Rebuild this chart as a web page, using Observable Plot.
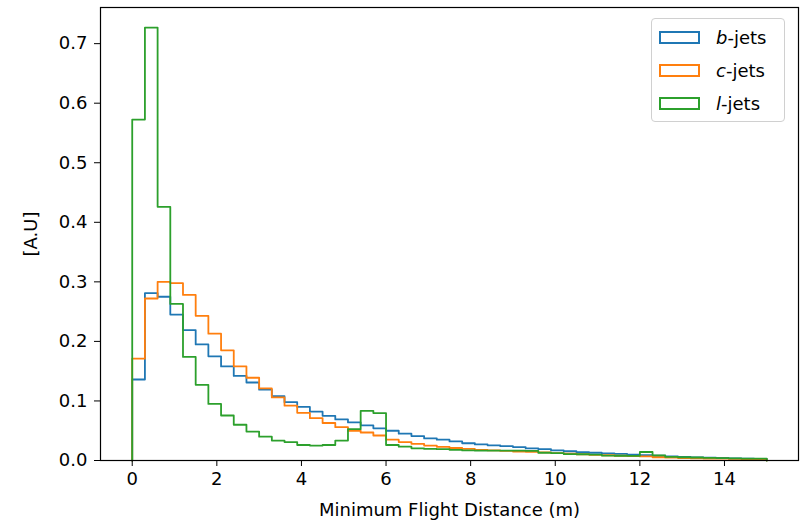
<!DOCTYPE html>
<html>
<head>
<meta charset="utf-8">
<script src="https://cdn.jsdelivr.net/npm/d3@7"></script>
<script src="https://cdn.jsdelivr.net/npm/@observablehq/plot@0.6"></script>
<style>
  html, body { margin: 0; padding: 0; background: #fff; }
  #wrap { position: relative; width: 800px; height: 523px; font-family: "DejaVu Sans", sans-serif; }
  #legend { position: absolute; left: 651px; top: 18px; width: 134px; height: 104px; box-sizing: border-box;
    border: 1px solid #d0d0d0; border-radius: 4px; background: rgba(255,255,255,0.85); font-size: 18px; color: #000; }
  .item { position: absolute; left: 7px; height: 20px; display: flex; align-items: center; }
  .sw { width: 41px; height: 13px; box-sizing: border-box; border: 2px solid; margin-right: 16px; }
  .item span i { font-style: italic; }
</style>
</head>
<body>
<div id="wrap"></div>
<script>
// Histogram bins: 50 bins of width 0.3 over [0, 15]
const binWidth = 0.3;
const binCount = 50;
const seriesNames = ["b-jets", "c-jets", "l-jets"];
const seriesColors = ["#1f77b4", "#ff7f0e", "#2ca02c"];
const xTicks = [0, 2, 4, 6, 8, 10, 12, 14];
const yTicks = [0, 0.1, 0.2, 0.3, 0.4, 0.5, 0.6, 0.7];

const bJets = [0.136, 0.281, 0.275, 0.245, 0.219, 0.195, 0.175, 0.158, 0.142, 0.131,
  0.119, 0.108, 0.098, 0.090, 0.082, 0.075, 0.069, 0.064, 0.059, 0.054,
  0.050, 0.045, 0.041, 0.037, 0.035, 0.032, 0.029, 0.027, 0.0255, 0.024,
  0.0225, 0.0205, 0.019, 0.017, 0.0155, 0.014, 0.013, 0.012, 0.011, 0.0098,
  0.0088, 0.008, 0.007, 0.006, 0.0053, 0.0047, 0.0042, 0.0037, 0.0031, 0.0025];
const cJets = [0.171, 0.272, 0.300, 0.298, 0.278, 0.243, 0.213, 0.185, 0.158, 0.139,
  0.121, 0.106, 0.092, 0.080, 0.071, 0.063, 0.056, 0.050, 0.047, 0.042,
  0.035, 0.031, 0.028, 0.025, 0.023, 0.021, 0.0195, 0.018, 0.017, 0.016,
  0.015, 0.0145, 0.0135, 0.0125, 0.0115, 0.0105, 0.0095, 0.0088, 0.008, 0.0075,
  0.0068, 0.0055, 0.0048, 0.0042, 0.0037, 0.0033, 0.003, 0.0027, 0.0024, 0.0021];
const lJets = [0.5725, 0.727, 0.426, 0.263, 0.174, 0.127, 0.095, 0.0756, 0.060, 0.0486,
  0.040, 0.0335, 0.031, 0.026, 0.025, 0.026, 0.0335, 0.0526, 0.0835, 0.0796,
  0.026, 0.0233, 0.0205, 0.0195, 0.019, 0.018, 0.017, 0.0165, 0.0165, 0.0165,
  0.0165, 0.016, 0.013, 0.0125, 0.0108, 0.0105, 0.010, 0.0082, 0.008, 0.0078,
  0.0143, 0.0087, 0.006, 0.0055, 0.005, 0.0045, 0.004, 0.0037, 0.0033, 0.003];

const allSeries = [bJets, cJets, lJets];

// Build step-outline table (like histtype="step")
const rows = [];
allSeries.forEach((vals, s) => {
  const name = seriesNames[s];
  rows.push({series: name, x: 0, y: 0});
  vals.forEach((v, i) => {
    rows.push({series: name, x: +(i * binWidth).toFixed(4), y: v});
    rows.push({series: name, x: +((i + 1) * binWidth).toFixed(4), y: v});
  });
  rows.push({series: name, x: binCount * binWidth, y: 0});
});

const chart = Plot.plot({
  width: 800,
  height: 523,
  marginLeft: 100,
  marginRight: 2,
  marginTop: 7,
  marginBottom: 63,
  style: {fontFamily: "DejaVu Sans, sans-serif", fontSize: "18px", color: "#000", background: "#fff"},
  x: {domain: [-0.75, 15.75]},
  y: {domain: [0, 0.7607]},
  color: {domain: seriesNames, range: seriesColors},
  marks: [
    Plot.line(rows, {x: "x", y: "y", z: "series", stroke: "series", strokeWidth: 1.8, curve: "linear"}),
    Plot.frame({stroke: "#000", strokeWidth: 1.2}),
    Plot.axisX({ticks: xTicks, tickSize: 6, tickPadding: 6, tickFormat: d3.format("d"),
      label: "Minimum Flight Distance (m)", labelAnchor: "center", labelArrow: "none", labelOffset: 55, fontSize: 18}),
    Plot.axisY({ticks: yTicks, tickSize: 6, tickPadding: 7, tickFormat: d3.format(".1f"),
      label: "[A.U]", labelAnchor: "center", labelArrow: "none", labelOffset: 76, fontSize: 18})
  ]
});

const wrap = document.getElementById("wrap");
wrap.appendChild(chart);

const legend = document.createElement("div");
legend.id = "legend";
const labels = [["b", "-jets"], ["c", "-jets"], ["l", "-jets"]];
labels.forEach((lab, i) => {
  const item = document.createElement("div");
  item.className = "item";
  item.style.top = (8 + i * 33) + "px";
  item.innerHTML = `<div class="sw" style="border-color:${seriesColors[i]}"></div><span><i>${lab[0]}</i>${lab[1]}</span>`;
  legend.appendChild(item);
});
wrap.appendChild(legend);
</script>
</body>
</html>
